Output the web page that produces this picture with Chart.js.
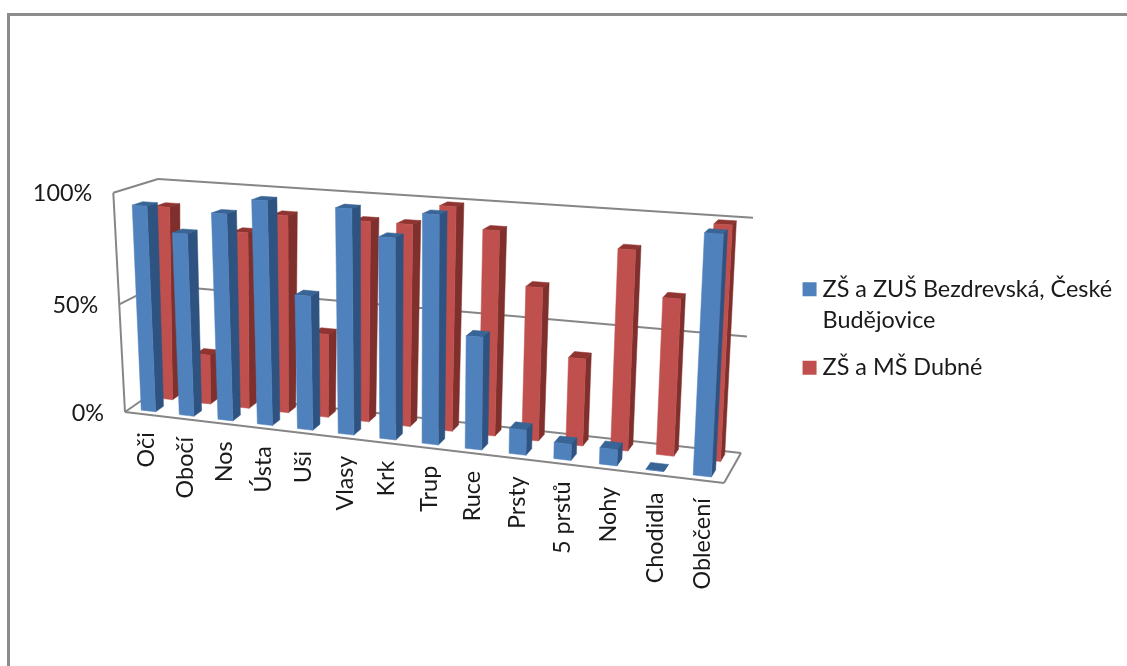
<!DOCTYPE html>
<html>
<head>
<meta charset="utf-8">
<title>Části těla</title>
<script src="https://cdn.jsdelivr.net/npm/chart.js@4/dist/chart.umd.min.js"></script>
<style>
  html, body { margin: 0; padding: 0; background: #fff; overflow: hidden; }
  #frame { position: absolute; left: 7px; top: 13px; right: -10px; bottom: -10px; border-left: 3px solid #8c8c8c; border-top: 3px solid #8c8c8c; }
  canvas { position: absolute; left: 0; top: 0; }
</style>
</head>
<body>
<div id="frame"></div>
<canvas id="myChart" width="1127" height="666"></canvas>
<script>
const categories = ["Oči", "Obočí", "Nos", "Ústa", "Uši", "Vlasy", "Krk", "Trup", "Ruce", "Prsty", "5 prstů", "Nohy", "Chodidla", "Oblečení"];
const budejovice = [94, 83, 93, 100, 60, 99, 88, 99, 49, 11, 7, 7, 0, 99];
const dubne = [90, 23, 81, 90, 38, 90, 90, 99, 90, 67, 38, 86, 67, 99];
const seriesNames = [["ZŠ a ZUŠ Bezdrevská, České", "Budějovice"], "ZŠ a MŠ Dubné"];

// wall corners on screen: bl, br, tr, tl
const frontQuad = [[125, 412], [724, 483], [737, 235], [113.3, 192.7]];
const backQuad = [[158, 389], [741, 453], [753, 217.7], [158, 179]];

// unit square -> quad homography
function quadMap(q) {
  const [p0, p1, p2, p3] = q;
  const dx1 = p1[0] - p2[0], dx2 = p3[0] - p2[0], sx = p0[0] - p1[0] + p2[0] - p3[0];
  const dy1 = p1[1] - p2[1], dy2 = p3[1] - p2[1], sy = p0[1] - p1[1] + p2[1] - p3[1];
  const det = dx1 * dy2 - dx2 * dy1;
  const g = (sx * dy2 - dx2 * sy) / det;
  const h = (dx1 * sy - sx * dy1) / det;
  const a = p1[0] - p0[0] + g * p1[0], b = p3[0] - p0[0] + h * p3[0];
  const d = p1[1] - p0[1] + g * p1[1], e = p3[1] - p0[1] + h * p3[1];
  return (u, v) => {
    const k = g * u + h * v + 1;
    return [(a * u + b * v + p0[0]) / k, (d * u + e * v + p0[1]) / k];
  };
}
const front = quadMap(frontQuad);
const back = quadMap(backQuad);

function project(u, v, w) {
  const f = front(u, v), b = back(u, v);
  return [f[0] + (b[0] - f[0]) * w, f[1] + (b[1] - f[1]) * w];
}

function face(ctx, pts, color) {
  ctx.beginPath();
  pts.forEach((p, i) => i ? ctx.lineTo(p[0], p[1]) : ctx.moveTo(p[0], p[1]));
  ctx.closePath();
  ctx.fillStyle = color;
  ctx.strokeStyle = color;
  ctx.lineWidth = 0.5;
  ctx.fill();
  ctx.stroke();
}

function line(ctx, a, b) {
  ctx.beginPath();
  ctx.moveTo(a[0], a[1]);
  ctx.lineTo(b[0], b[1]);
  ctx.stroke();
}

// draws the walls, the floor and the columns in perspective from the scale pixels
const perspectiveBars = {
  id: 'perspectiveBars',
  beforeDatasetsDraw(chart) {
    const { ctx, scales: { x, y } } = chart;
    const area = chart.chartArea;
    ctx.save();
    ctx.strokeStyle = '#868686';
    ctx.lineWidth = 2;
    line(ctx, project(0, 0, 0), project(0, 1, 0));
    y.ticks.forEach(t => {
      const v = (area.bottom - y.getPixelForValue(t.value)) / area.height;
      line(ctx, project(0, v, 0), project(0, v, 1));
      line(ctx, project(0, v, 1), project(1, v, 1));
    });
    line(ctx, project(0, 0, 0), project(1, 0, 0));
    line(ctx, project(1, 0, 0), project(1, 0, 1));

    ctx.fillStyle = '#1a1a1a';
    ctx.font = '23.4px Lato';
    ctx.textAlign = 'right';
    ctx.textBaseline = 'middle';
    y.ticks.forEach(t => {
      const v = (area.bottom - y.getPixelForValue(t.value)) / area.height;
      const p = project(0, v, 0);
      ctx.fillText(t.label, p[0] - 21, p[1] + 1);
    });
    x.ticks.forEach((t, i) => {
      const u = (x.getPixelForTick(i) - area.left) / area.width;
      const p = project(u, 0, 0);
      ctx.save();
      ctx.translate(p[0] + 3, p[1] + 18);
      ctx.rotate(-Math.PI / 2);
      ctx.fillText(t.label, 0, 0);
      ctx.restore();
    });
    ctx.restore();
  },
  beforeDatasetDraw(chart, args) {
    const { ctx } = chart;
    const area = chart.chartArea;
    const ds = chart.data.datasets[args.index];
    const [w0, w1] = ds.depth;
    ctx.save();
    args.meta.data.forEach(bar => {
      const u0 = (bar.x - bar.width / 2 - area.left) / area.width;
      const u1 = (bar.x + bar.width / 2 - area.left) / area.width;
      const v = (area.bottom - bar.y) / area.height;
      face(ctx, [project(u0, v, w0), project(u1, v, w0), project(u1, v, w1), project(u0, v, w1)], ds.topColor);
      face(ctx, [project(u1, 0, w0), project(u1, 0, w1), project(u1, v, w1), project(u1, v, w0)], ds.sideColor);
      face(ctx, [project(u0, 0, w0), project(u1, 0, w0), project(u1, v, w0), project(u0, v, w0)], ds.backgroundColor);
    });
    ctx.restore();
    return false;
  }
};

const config = {
  type: 'bar',
  data: {
    labels: categories,
    datasets: [{
      label: seriesNames[0],
      data: budejovice,
      backgroundColor: '#4F81BD',
      borderColor: '#4F81BD',
      borderWidth: 11.4,
      sideColor: '#2F5380',
      topColor: '#386496',
      depth: [0.14, 0.38]
    }, {
      label: seriesNames[1],
      data: dubne,
      backgroundColor: '#C0504D',
      borderColor: '#C0504D',
      borderWidth: 11.4,
      sideColor: '#7F2F2C',
      topColor: '#8F3431',
      depth: [0.66, 0.9]
    }]
  },
  options: {
    responsive: false,
    animation: false,
    grouped: false,
    barPercentage: 0.38,
    categoryPercentage: 1,
    layout: { padding: { right: 5, top: 0, bottom: 9 } },
    scales: {
      x: { display: false, ticks: { autoSkip: false } },
      y: { display: false, min: 0, max: 100, ticks: { stepSize: 50, callback: v => v + '%' } }
    },
    plugins: {
      title: { display: false },
      tooltip: { enabled: false },
      legend: {
        position: 'right',
        labels: {
          // thin box plus a wide border: keeps the 14px swatch close to the text
          boxWidth: 2.6,
          boxHeight: 2.6,
          padding: 16.5,
          color: '#1a1a1a',
          font: { family: 'Lato', size: 23.4, lineHeight: 1.32 }
        }
      }
    }
  },
  plugins: [perspectiveBars]
};

new Chart(document.getElementById("myChart"), config);
</script>
</body>
</html>
